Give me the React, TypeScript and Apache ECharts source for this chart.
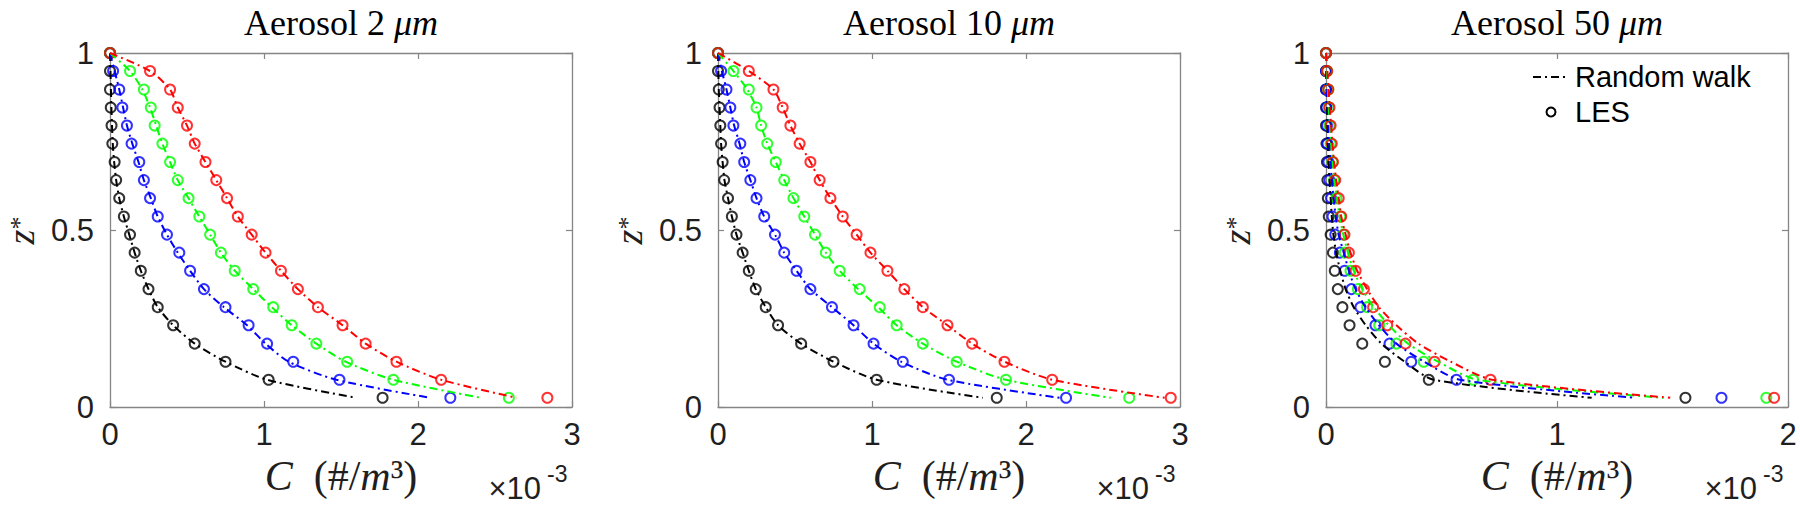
import React, { useEffect, useRef } from "react";
import * as echarts from "echarts";

// Height levels z* (shared by LES samples and random-walk profiles)
const zLevels = [1.0, 0.949, 0.897, 0.846, 0.795, 0.744, 0.692, 0.641, 0.59, 0.538, 0.487, 0.436, 0.385, 0.333, 0.282, 0.231, 0.179, 0.128, 0.077, 0.026];

// Concentrations in units of 1e-3 #/m^3
// Aerosol 2 um
const les2Black = [0.0, 0.0, 0.0, 0.005, 0.01, 0.015, 0.03, 0.04, 0.06, 0.09, 0.13, 0.16, 0.2, 0.25, 0.31, 0.41, 0.55, 0.75, 1.03, 1.77];
const les2Blue = [0.0, 0.02, 0.06, 0.08, 0.11, 0.14, 0.19, 0.22, 0.26, 0.31, 0.37, 0.45, 0.52, 0.61, 0.75, 0.9, 1.02, 1.19, 1.49, 2.21];
const les2Green = [0.0, 0.13, 0.22, 0.265, 0.29, 0.34, 0.39, 0.44, 0.51, 0.58, 0.65, 0.72, 0.81, 0.93, 1.06, 1.18, 1.34, 1.54, 1.84, 2.59];
const les2Red = [0.0, 0.26, 0.39, 0.44, 0.5, 0.55, 0.62, 0.69, 0.76, 0.83, 0.92, 1.01, 1.11, 1.22, 1.35, 1.51, 1.66, 1.86, 2.15, 2.84];
const rw2Black = [0.0, 0.003, 0.006, 0.009, 0.013, 0.018, 0.027, 0.04, 0.06, 0.09, 0.125, 0.16, 0.2, 0.25, 0.31, 0.41, 0.55, 0.75, 1.02, 1.6];
const rw2Blue = [0.0, 0.03, 0.06, 0.085, 0.11, 0.145, 0.185, 0.22, 0.265, 0.31, 0.37, 0.44, 0.52, 0.61, 0.74, 0.89, 1.01, 1.16, 1.47, 2.08];
const rw2Green = [0.0, 0.13, 0.21, 0.26, 0.3, 0.34, 0.39, 0.44, 0.51, 0.58, 0.65, 0.72, 0.81, 0.93, 1.05, 1.18, 1.34, 1.53, 1.84, 2.41];
const rw2Red = [0.0, 0.26, 0.39, 0.44, 0.5, 0.55, 0.62, 0.69, 0.76, 0.83, 0.92, 1.01, 1.11, 1.22, 1.35, 1.51, 1.66, 1.86, 2.15, 2.64];

// Aerosol 10 um
const les10Black = [0.0, 0.0, 0.005, 0.01, 0.015, 0.02, 0.03, 0.04, 0.065, 0.09, 0.12, 0.16, 0.2, 0.245, 0.31, 0.39, 0.54, 0.75, 1.03, 1.81];
const les10Blue = [0.0, 0.02, 0.055, 0.08, 0.1, 0.145, 0.17, 0.21, 0.25, 0.3, 0.37, 0.43, 0.51, 0.6, 0.74, 0.88, 1.01, 1.2, 1.5, 2.26];
const les10Green = [0.0, 0.1, 0.2, 0.25, 0.28, 0.32, 0.375, 0.43, 0.49, 0.56, 0.63, 0.7, 0.79, 0.92, 1.05, 1.16, 1.33, 1.55, 1.87, 2.67];
const les10Red = [0.0, 0.2, 0.36, 0.42, 0.47, 0.53, 0.6, 0.66, 0.73, 0.81, 0.9, 0.99, 1.1, 1.21, 1.33, 1.49, 1.65, 1.86, 2.17, 2.94];
const rw10Black = [0.0, 0.002, 0.005, 0.01, 0.015, 0.02, 0.03, 0.042, 0.065, 0.09, 0.12, 0.16, 0.2, 0.245, 0.31, 0.39, 0.54, 0.75, 1.03, 1.72];
const rw10Blue = [0.0, 0.025, 0.055, 0.08, 0.105, 0.14, 0.17, 0.21, 0.25, 0.3, 0.37, 0.43, 0.51, 0.6, 0.74, 0.88, 1.01, 1.19, 1.49, 2.22];
const rw10Green = [0.0, 0.1, 0.19, 0.25, 0.28, 0.32, 0.375, 0.43, 0.49, 0.56, 0.63, 0.7, 0.79, 0.91, 1.04, 1.16, 1.33, 1.55, 1.87, 2.55];
const rw10Red = [0.0, 0.2, 0.36, 0.42, 0.47, 0.53, 0.6, 0.66, 0.73, 0.81, 0.9, 0.99, 1.1, 1.21, 1.33, 1.49, 1.65, 1.86, 2.17, 2.9];

// Aerosol 50 um
const les50Black = [0.0, 0.0, 0.0, 0.0, 0.0, 0.002, 0.004, 0.006, 0.008, 0.012, 0.02, 0.03, 0.038, 0.051, 0.071, 0.102, 0.157, 0.255, 0.445, 1.556];
const les50Blue = [0.0, 0.0, 0.0, 0.002, 0.004, 0.006, 0.01, 0.015, 0.022, 0.028, 0.04, 0.06, 0.081, 0.11, 0.149, 0.214, 0.275, 0.369, 0.565, 1.712];
const les50Green = [0.0, 0.005, 0.01, 0.012, 0.015, 0.02, 0.028, 0.035, 0.045, 0.062, 0.075, 0.081, 0.106, 0.138, 0.178, 0.23, 0.305, 0.423, 0.637, 1.906];
const les50Red = [0.0, 0.005, 0.01, 0.015, 0.02, 0.025, 0.03, 0.04, 0.055, 0.066, 0.08, 0.099, 0.128, 0.164, 0.204, 0.265, 0.344, 0.47, 0.712, 1.94];
const rw50Black = [0.0, 0.001, 0.002, 0.004, 0.006, 0.008, 0.011, 0.015, 0.02, 0.025, 0.032, 0.044, 0.062, 0.085, 0.12, 0.172, 0.24, 0.34, 0.465, 1.15];
const rw50Blue = [0.0, 0.002, 0.004, 0.007, 0.01, 0.014, 0.019, 0.025, 0.033, 0.042, 0.055, 0.077, 0.099, 0.128, 0.171, 0.229, 0.305, 0.425, 0.58, 1.34];
const rw50Green = [0.0, 0.004, 0.008, 0.012, 0.017, 0.022, 0.029, 0.037, 0.047, 0.059, 0.075, 0.095, 0.12, 0.157, 0.207, 0.272, 0.355, 0.485, 0.655, 1.46];
const rw50Red = [0.0, 0.006, 0.011, 0.016, 0.022, 0.028, 0.035, 0.044, 0.055, 0.066, 0.085, 0.106, 0.135, 0.178, 0.229, 0.305, 0.4, 0.54, 0.72, 1.49];

const panelSizes = ["2", "10", "50"];
const xAxisMax = [3, 3, 2];
const legendNames = ["Random walk", "LES"];
const colorNames = ["black", "blue", "green", "red"];
const colorValues = ["#000000", "#0000ff", "#00ff00", "#ff0000"];

const lesByPanel = [
  [les2Black, les2Blue, les2Green, les2Red],
  [les10Black, les10Blue, les10Green, les10Red],
  [les50Black, les50Blue, les50Green, les50Red],
];
const rwByPanel = [
  [rw2Black, rw2Blue, rw2Green, rw2Red],
  [rw10Black, rw10Blue, rw10Green, rw10Red],
  [rw50Black, rw50Blue, rw50Green, rw50Red],
];

const SANS = '"Liberation Sans", Arial, Helvetica, sans-serif';
const SERIF = '"Liberation Serif", "Times New Roman", serif';
const AXIS_COLOR = "#858585";
const TEXT_COLOR = "#1f1f1f";
const DASH_DOT = [8, 4, 2, 4];

const GRID_LEFT = [110, 718, 1326];
const GRID_TOP = 53;
const GRID_W = 462;
const GRID_H = 354;

function pairs(xs: number[], zs: number[]) {
  return xs.map((x, i) => [x, zs[i]]);
}

export default function App() {
  const ref = useRef<HTMLDivElement>(null);

  useEffect(() => {
    if (!ref.current) return;
    const chart = echarts.init(ref.current, undefined, { renderer: "svg" });

    const grid: any[] = [];
    const xAxis: any[] = [];
    const yAxis: any[] = [];
    const series: any[] = [];
    const title: any[] = [];
    const graphic: any[] = [];

    const axisLine = { show: true, onZero: false, lineStyle: { color: AXIS_COLOR, width: 1.3 } };
    const axisTick = { show: true, inside: true, length: 6, lineStyle: { color: AXIS_COLOR, width: 1.2 } };

    for (let p = 0; p < 3; p++) {
      const left = GRID_LEFT[p];
      const right = left + GRID_W;
      const cx = left + GRID_W / 2;
      grid.push({ left, top: GRID_TOP, width: GRID_W, height: GRID_H, containLabel: false });

      const xBase = {
        type: "value",
        gridIndex: p,
        min: 0,
        max: xAxisMax[p],
        interval: 1,
        axisLine,
        axisTick,
        splitLine: { show: false },
      };
      xAxis.push({
        ...xBase,
        position: "bottom",
        axisLabel: { show: true, fontSize: 31, fontFamily: SANS, color: TEXT_COLOR, margin: 12 },
        name: "{i|C}{n|  (#/}{i|m}{n|³)}",
        nameLocation: "middle",
        nameGap: 43,
        nameTextStyle: {
          rich: {
            i: { fontFamily: SERIF, fontStyle: "italic", fontSize: 42, color: TEXT_COLOR },
            n: { fontFamily: SERIF, fontSize: 42, color: TEXT_COLOR },
          },
        },
      });
      xAxis.push({ ...xBase, position: "top", axisLabel: { show: false } });

      const yBase = {
        type: "value",
        gridIndex: p,
        min: 0,
        max: 1,
        interval: 0.5,
        axisLine,
        axisTick,
        splitLine: { show: false },
      };
      yAxis.push({
        ...yBase,
        position: "left",
        axisLabel: { show: true, fontSize: 31, fontFamily: SANS, color: TEXT_COLOR, margin: 16 },
      });
      yAxis.push({ ...yBase, position: "right", axisLabel: { show: false } });

      for (let c = 0; c < 4; c++) {
        const color = colorValues[c];
        series.push({
          type: "line",
          name: `rw-${colorNames[c]}-${panelSizes[p]}`,
          xAxisIndex: 2 * p,
          yAxisIndex: 2 * p,
          data: pairs(rwByPanel[p][c], zLevels),
          symbol: "none",
          smooth: 0.25,
          clip: false,
          lineStyle: { color, width: 2, type: DASH_DOT },
          itemStyle: { color },
          emphasis: { disabled: true },
        });
        series.push({
          type: "scatter",
          name: `les-${colorNames[c]}-${panelSizes[p]}`,
          xAxisIndex: 2 * p,
          yAxisIndex: 2 * p,
          data: pairs(lesByPanel[p][c], zLevels),
          symbol: "circle",
          symbolSize: 10,
          clip: false,
          itemStyle: { color: "rgba(255,255,255,0)", borderColor: color, borderWidth: 2 },
          emphasis: { disabled: true },
        });
      }

      title.push({
        text: `{n|Aerosol ${panelSizes[p]} }{i|μm}`,
        left: cx,
        top: 23,
        textAlign: "center",
        textVerticalAlign: "middle",
        padding: 0,
        textStyle: {
          fontWeight: "normal",
          rich: {
            n: { fontFamily: SERIF, fontSize: 36, fontWeight: "normal", color: "#000" },
            i: { fontFamily: SERIF, fontSize: 36, fontWeight: "normal", fontStyle: "italic", color: "#000" },
          },
        },
      });

      // y-axis label z* (rotated)
      graphic.push({
        type: "text",
        x: left - 89,
        y: 237,
        rotation: Math.PI / 2,
        style: {
          text: "z",
          fontFamily: SERIF,
          fontStyle: "italic",
          fontSize: 38,
          fill: TEXT_COLOR,
          align: "center",
          verticalAlign: "middle",
        },
      });
      graphic.push({
        type: "text",
        x: left - 91,
        y: 223,
        rotation: Math.PI / 2,
        style: {
          text: "*",
          fontFamily: SERIF,
          fontSize: 26,
          fill: TEXT_COLOR,
          align: "center",
          verticalAlign: "middle",
        },
      });

      // x10^-3 multiplier
      graphic.push({
        type: "text",
        x: right - 31,
        y: 488,
        style: {
          text: "×10",
          fontFamily: SANS,
          fontSize: 31,
          fill: TEXT_COLOR,
          align: "right",
          verticalAlign: "middle",
        },
      });
      graphic.push({
        type: "text",
        x: right - 25,
        y: 474,
        style: {
          text: "-3",
          fontFamily: SANS,
          fontSize: 23,
          fill: TEXT_COLOR,
          align: "left",
          verticalAlign: "middle",
        },
      });
    }

    // Legend drawn in the third panel
    const legX = 1533;
    const legRow1 = 77;
    const legRow2 = 112;
    graphic.push({
      type: "line",
      shape: { x1: legX, y1: legRow1, x2: legX + 35, y2: legRow1 },
      style: { stroke: "#000", lineWidth: 2, lineDash: DASH_DOT },
    });
    graphic.push({
      type: "circle",
      shape: { cx: legX + 18, cy: legRow2, r: 4.5 },
      style: { fill: "none", stroke: "#000", lineWidth: 2 },
    });
    graphic.push({
      type: "text",
      x: legX + 42,
      y: legRow1,
      style: { text: legendNames[0], fontFamily: SANS, fontSize: 29, fill: "#000", align: "left", verticalAlign: "middle" },
    });
    graphic.push({
      type: "text",
      x: legX + 42,
      y: legRow2,
      style: { text: legendNames[1], fontFamily: SANS, fontSize: 29, fill: "#000", align: "left", verticalAlign: "middle" },
    });

    chart.setOption({
      animation: false,
      backgroundColor: "#ffffff",
      title,
      grid,
      xAxis,
      yAxis,
      series,
      graphic,
    });

    return () => chart.dispose();
  }, []);

  return (
    <div
      ref={ref}
      style={{ position: "absolute", left: 0, top: 0, width: 1800, height: 507, background: "#fff" }}
    />
  );
}
